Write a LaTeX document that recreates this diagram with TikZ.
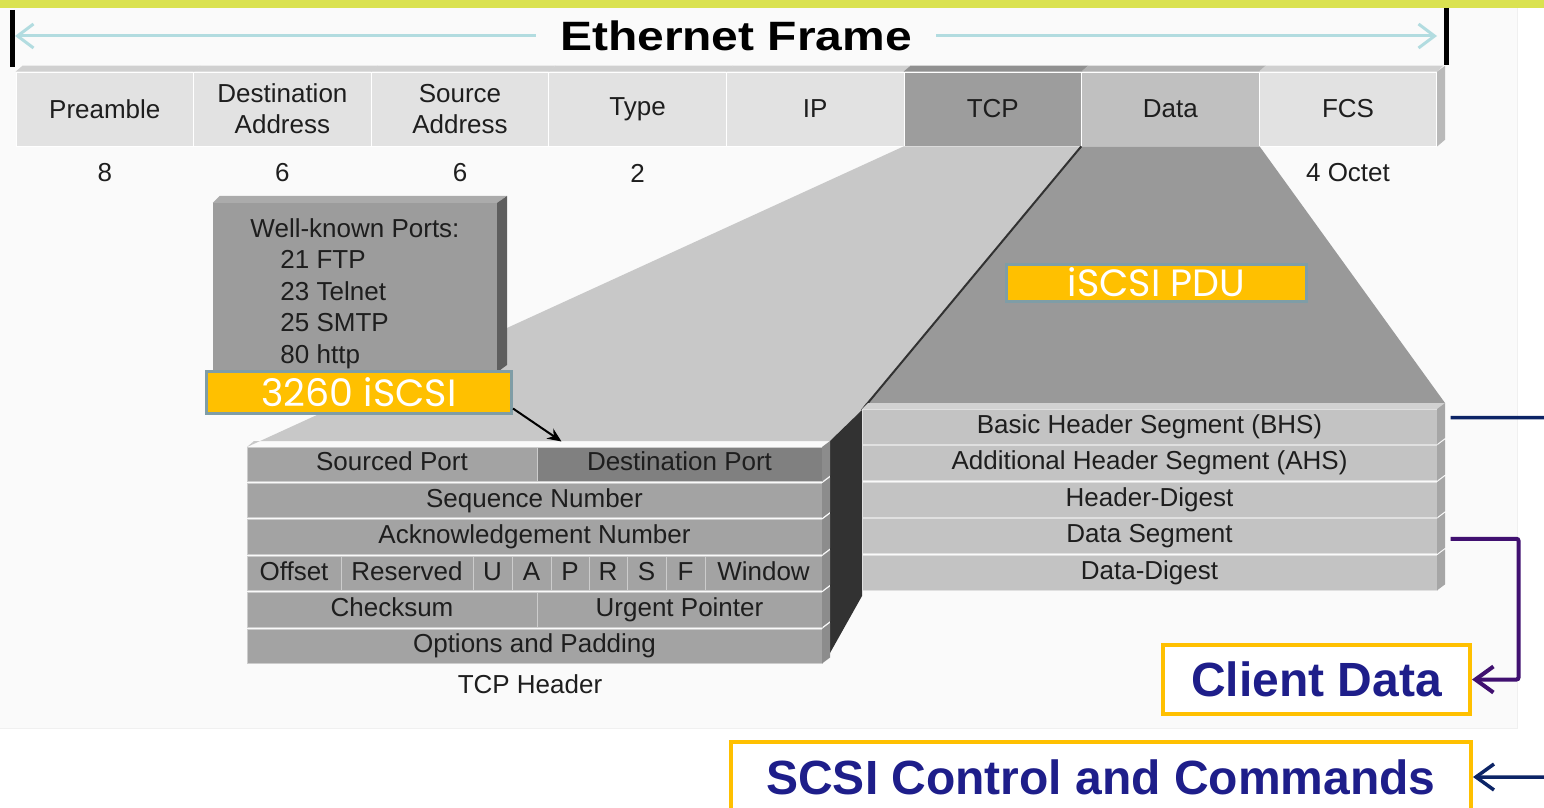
\documentclass[tikz,border=0pt]{standalone}
\usepackage{fontspec}
\setmainfont{Liberation Sans}
\newfontfamily\gothicfont{Poppins}
\newfontfamily\titlefont[FakeStretch=1.17]{Liberation Sans}
\usetikzlibrary{calc,positioning,arrows.meta}

\definecolor{bandgreen}{RGB}{218,226,80}
\definecolor{spancyan}{RGB}{178,220,224}
\definecolor{fieldlight}{RGB}{226,226,226}
\definecolor{fieldtcp}{RGB}{157,157,157}
\definecolor{fielddata}{RGB}{192,192,192}
\definecolor{funnellight}{RGB}{200,200,200}
\definecolor{funneldark}{RGB}{153,153,153}
\definecolor{rowgray}{RGB}{163,163,163}
\definecolor{rowdark}{RGB}{128,128,128}
\definecolor{stackgray}{RGB}{195,195,195}
\definecolor{sidedark}{RGB}{50,50,50}
\definecolor{portgray}{RGB}{156,156,156}
\definecolor{tagorange}{RGB}{255,192,0}
\definecolor{tagedge}{RGB}{127,157,166}
\definecolor{navylink}{RGB}{12,36,102}
\definecolor{purplelink}{RGB}{64,16,112}
\definecolor{clientblue}{RGB}{30,30,138}
\definecolor{textgray}{RGB}{30,30,30}

\begin{document}
\begin{tikzpicture}[x=1pt,y=-1pt,
field/.style={rectangle, draw=white, line width=0.8pt, inner sep=0pt, align=center, text=textgray, font=\fontsize{26}{31}\selectfont},
hdrcell/.style={rectangle, draw=black!20, line width=1pt, inner sep=0pt, minimum height=34.5pt, text height=18.6pt, text depth=5.5pt, text=textgray, font=\fontsize{26}{29}\selectfont},
pdulayer/.style={rectangle, fill=stackgray, draw=black!12, line width=1pt, inner sep=0pt, minimum width=575pt, minimum height=35pt, text height=18.6pt, text depth=5.5pt, text=textgray, font=\fontsize{26}{29}\selectfont},
portbox/.style={rectangle, fill=portgray, inner sep=0pt, align=left, text=textgray, font=\fontsize{26}{31.5}\selectfont},
tag/.style={rectangle, fill=tagorange, draw=tagedge, line width=3pt, inner sep=0pt, text=white, font=\gothicfont\fontsize{38}{40}\selectfont},
resultbox/.style={rectangle, draw=tagorange, line width=4pt, fill=white, inner sep=0pt, text=clientblue, font=\bfseries\fontsize{48}{50}\selectfont},
info/.style={draw=none, fill=none, inner sep=0pt, text=textgray, font=\fontsize{26}{29}\selectfont},
framespan/.style={spancyan, line width=3pt, -{Straight Barb[length=16pt,width=24pt]}},
bar/.style={black, line width=5pt},
pointer/.style={black, line width=2pt, -{Stealth[length=14pt,width=12pt]}},
link/.style={line width=3.5pt, rounded corners=2pt, -{Straight Barb[length=18pt,width=26pt]}}]

%% local variables
\def \fw {177.6}
\def \hdrL {247}
\def \hdrR {822}
\def \hdrT {447}
\def \pitch {36.4}
\def \rh {34.5}
\def \pduT {409}

\useasboundingbox (0,0) rectangle (1544,808);

%% slide panel and top band
\fill[black!2] (0,8) rectangle (1517,728);
\draw[black!6, line width=0.6pt] (1517,8) -- (1517,728) -- (0,728);
\fill[bandgreen] (0,0) rectangle (1544,8);

%% ethernet frame title
\node[info, text=black, inner xsep=24pt, font=\titlefont\bfseries\fontsize{41}{44}\selectfont] (title) at (736,36) {Ethernet Frame};
\coordinate (spanL) at (15,0);
\coordinate (spanR) at (1437,0);
\draw[framespan] (title.west) -- (title.west -| spanL);
\draw[framespan] (title.east) -- (title.east -| spanR);
\draw[bar] (12.5,10) -- (12.5,67);
\draw[bar] (1446.5,8) -- (1446.5,65);

%% frame fields
\foreach \i/\lbl/\col in {0/Preamble/fieldlight, 1/{Destination\\Address}/fieldlight, 2/{Source\\Address}/fieldlight, 3/Type/fieldlight, 4/IP/fieldlight, 5/TCP/fieldtcp, 6/Data/fielddata, 7/FCS/fieldlight}
{
      \node[field, fill=\col, minimum width=\fw, minimum height=74] (E-\i) at ({16+(\i+0.5)*\fw}, 109) {\lbl};
      \fill[\col!92!black] (E-\i.north west) -- ++(7,-6) -- ++(\fw,0) -- (E-\i.north east) -- cycle;
}
\fill[fieldlight!82!black] (E-7.north east) -- ++(8,-6) -- ++(0,74) -- (E-7.south east) -- cycle;

%% field sizes
\coordinate (numrow) at (0,173);
\foreach \i/\n in {0/8, 1/6, 2/6, 3/2, 7/4 Octet}
      \node[info] (N-\i) at (E-\i |- numrow) {\n};

%% funnels
\fill[funnellight] (E-5.south west) -- (E-5.south east) -- (862,410) -- (830,441) -- (254,441) -- (\hdrL,\hdrT) -- cycle;
\fill[funneldark] (E-6.south west) -- (E-6.south east) -- (1445,403) -- (866,403) -- (862,410) -- cycle;
\draw[sidedark, line width=2pt] (E-6.south west) -- (862,410);
\fill[sidedark] (830,441) -- (862,410) -- (862,596) -- (830,653) -- cycle;

%% tcp header
\foreach \name/\lbl/\xa/\xb/\k/\col in {sport/Sourced Port/247/537/0/rowgray, dport/Destination Port/537/822/0/rowdark, seq/Sequence Number/247/822/1/rowgray, ack/Acknowledgement Number/247/822/2/rowgray, off/Offset/247/341/3/rowgray, rsv/Reserved/341/473/3/rowgray, fu/U/473/512/3/rowgray, fa/A/512/551/3/rowgray, fp/P/551/589/3/rowgray, fr/R/589/627/3/rowgray, fs/S/627/666/3/rowgray, ff/F/666/705/3/rowgray, win/Window/705/822/3/rowgray, chk/Checksum/247/537/4/rowgray, urg/Urgent Pointer/537/822/4/rowgray, opt/Options and Padding/247/822/5/rowgray}
      \node[hdrcell, fill=\col, minimum width={\xb-\xa}] (\name) at ({(\xa+\xb)/2}, {\hdrT+\rh/2+\k*\pitch}) {\lbl};
\foreach \k in {0,...,5}
      \fill[black!45] (\hdrR,{\hdrT+\k*\pitch}) -- ++(8,-6) -- ++(0,\rh) -- ++(-8,6) -- cycle;
\node[info] (tcpcap) at (530,684) {TCP Header};

%% iscsi pdu stack
\fill[black!18] (862,\pduT) -- (868,403) -- (1445,403) -- (1437,\pduT) -- cycle;
\foreach \name/\lbl [count=\k from 0] in {bhs/Basic Header Segment (BHS), ahs/Additional Header Segment (AHS), hd/Header-Digest, ds/Data Segment, dd/Data-Digest}
{
      \node[pdulayer] (\name) at (1149.5, {\pduT+17.5+\k*36.6}) {\lbl};
      \fill[black!35] (1437,{\pduT+\k*36.6}) -- ++(8,-6) -- ++(0,35) -- ++(-8,6) -- cycle;
}

%% well-known ports
\node[portbox, minimum width=284, minimum height=169] (ports) at (355,287.5)
      {\rule{0pt}{31pt}Well-known Ports:\\\hspace*{30pt}21 FTP\\\hspace*{30pt}23 Telnet\\\hspace*{30pt}25 SMTP\\\hspace*{30pt}80 http};
\fill[portgray!85!white] (ports.north west) -- ++(7,-7) -- ++(287,0) -- (ports.north east) -- cycle;
\fill[portgray!60!black] (ports.north east) -- ++(10,-7) -- ++(0,169) -- (ports.south east) -- cycle;

%% labels
\node[tag, minimum width=305, minimum height=42] (port3260) at (359,392) {3260 iSCSI};
\node[tag, minimum width=300, minimum height=37] (pdu) at (1156.5,282.5) {iSCSI PDU};
\draw[pointer] ($(port3260.south east)+(0,-6)$) -- ($(dport.north west)+(25,-5)$);

%% where the pdu goes
\node[resultbox, minimum width=307, minimum height=69] (client) at (1316.5,679.5) {Client Data};
\node[resultbox, minimum width=740, minimum height=70] (scsi) at (1101,777) {SCSI Control and Commands};
\draw[link, navylink] ($(bhs.east)+(13,-9)$) -- ++(140,0) |- (scsi.east);
\draw[link, purplelink, line width=4pt] ($(ds.east)+(13,2.5)$) -- ++(68,0) |- (client.east);

\end{tikzpicture}
\end{document}
